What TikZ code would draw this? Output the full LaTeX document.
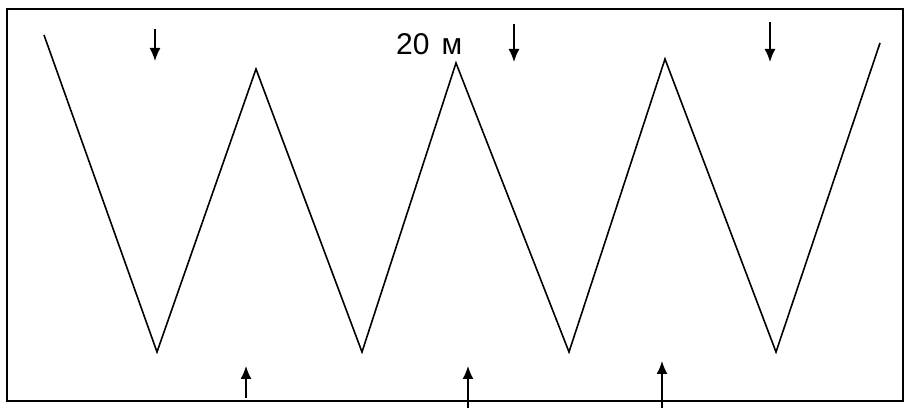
\documentclass[tikz,border=0pt]{standalone}
\usepackage{fontspec}
\setmainfont{Liberation Sans}
\usetikzlibrary{arrows.meta}
\begin{document}
\begin{tikzpicture}[x=1pt,y=-1pt,
  frame/.style={line width=1.8pt},
  zig/.style={line width=1.6pt, line join=miter},
  flow/.style={line width=1.5pt, -{Latex[length=13pt,width=11pt]}},
  lbl/.style={font=\fontsize{30}{34}\selectfont, inner sep=0pt}]
\useasboundingbox (0,0) rectangle (908,411);
\draw[frame] (7,9) rectangle (903,401);
% zigzag vertices
\coordinate (z0) at (44,35);
\coordinate (v1) at (157,352);
\coordinate (p1) at (256,69);
\coordinate (v2) at (362,352);
\coordinate (p2) at (456,63);
\coordinate (v3) at (569,352);
\coordinate (p3) at (665,59);
\coordinate (v4) at (776,352);
\coordinate (z9) at (880,43);
\draw[zig] (z0) -- (v1) -- (p1) -- (v2) -- (p2) -- (v3) -- (p3) -- (v4) -- (z9);
% down arrows
\coordinate (d1s) at (155,29); \coordinate (d1e) at (155,61);
\coordinate (d2s) at (514,24); \coordinate (d2e) at (514,62);
\coordinate (d3s) at (770,22); \coordinate (d3e) at (770,62);
\draw[flow] (d1s) -- (d1e);
\draw[flow] (d2s) -- (d2e);
\draw[flow] (d3s) -- (d3e);
% up arrows
\coordinate (u1s) at (246,398); \coordinate (u1e) at (246,366);
\coordinate (u2s) at (468,408); \coordinate (u2e) at (468,366);
\coordinate (u3s) at (662,408); \coordinate (u3e) at (662,361);
\draw[flow] (u1s) -- (u1e);
\draw[flow] (u2s) -- (u2e);
\draw[flow] (u3s) -- (u3e);
% label
\node[lbl, anchor=base west] (len) at (396,55) {20\hspace{12pt}м};
\end{tikzpicture}
\end{document}
